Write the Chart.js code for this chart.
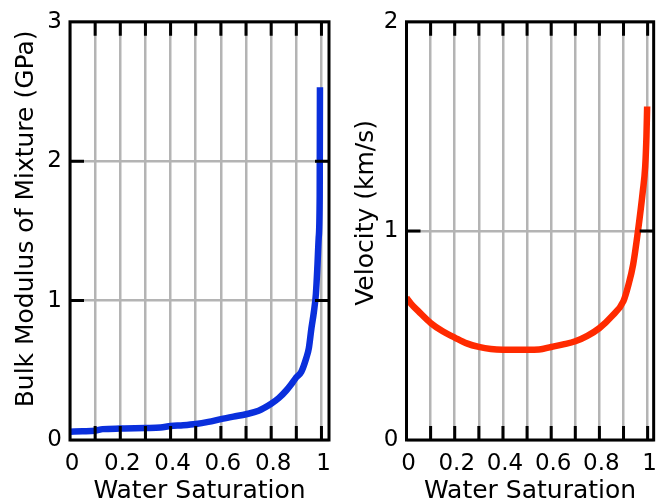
<!DOCTYPE html>
<html><head><meta charset="utf-8">
<script src="https://cdn.jsdelivr.net/npm/chart.js@4.4.1/dist/chart.umd.min.js"></script>
<style>
html,body{margin:0;padding:0;background:#fff;width:665px;height:504px;overflow:hidden}
#w1{position:absolute;left:0;top:0;width:340px;height:504px}
#w2{position:absolute;left:340px;top:0;width:325px;height:504px}
</style></head><body>
<div id="w1"><canvas id="c1"></canvas></div>
<div id="w2"><canvas id="c2"></canvas></div>
<script>
// ---- data ----
const saturationK = [0, 0.05, 0.1, 0.13, 0.2, 0.3, 0.36, 0.4, 0.45, 0.5, 0.55, 0.6, 0.65, 0.7, 0.75, 0.8, 0.83, 0.86, 0.88, 0.9, 0.92, 0.94, 0.95, 0.96, 0.97, 0.978, 0.984, 0.989, 0.993, 0.994];
const bulkModulus = [0.06, 0.062, 0.066, 0.078, 0.082, 0.086, 0.09, 0.1, 0.106, 0.115, 0.13, 0.15, 0.168, 0.185, 0.21, 0.26, 0.3, 0.355, 0.4, 0.45, 0.49, 0.59, 0.66, 0.8, 0.92, 1.05, 1.25, 1.45, 1.75, 2.53];
const saturationV = [0, 0.02, 0.05, 0.1, 0.15, 0.2, 0.25, 0.3, 0.35, 0.4, 0.45, 0.5, 0.55, 0.6, 0.65, 0.7, 0.75, 0.8, 0.85, 0.9, 0.92, 0.94, 0.96, 0.98, 0.99, 0.995, 0.998];
const velocity = [0.68, 0.65, 0.615, 0.56, 0.52, 0.49, 0.462, 0.445, 0.435, 0.432, 0.432, 0.432, 0.433, 0.445, 0.457, 0.472, 0.498, 0.535, 0.59, 0.665, 0.74, 0.84, 1.0, 1.19, 1.31, 1.45, 1.595];
const xTickValues = [0, 0.1, 0.2, 0.3, 0.4, 0.5, 0.6, 0.7, 0.8, 0.9, 1];
const xTickLabels = ['0', '', '0.2', '', '0.4', '', '0.6', '', '0.8', '', '1'];
const bulkTickValues = [0, 1, 2, 3];
const bulkTickLabels = ['0', '1', '2', '3'];
const velTickValues = [0, 1, 2];
const velTickLabels = ['0', '1', '2'];
const xTitle = 'Water Saturation';
const bulkTitle = 'Bulk Modulus of Mixture (GPa)';
const velTitle = 'Velocity (km/s)';

const FONT = "'DejaVu Sans', sans-serif";
const GRID = '#b4b4b4';

const framePlugin = {
  id: 'frame',
  afterDraw(chart, args, opts) {
    const {ctx, chartArea: a, scales: {x, y}} = chart;
    ctx.save();
    ctx.strokeStyle = '#000';
    ctx.lineWidth = 3;
    ctx.lineCap = 'butt';
    const L = 14;
    ctx.beginPath();
    x.ticks.forEach(t => {
      const px = x.getPixelForValue(t.value);
      if (px <= a.left + 2 || px >= a.right - 2) return;
      ctx.moveTo(px, a.bottom); ctx.lineTo(px, a.bottom - L);
      ctx.moveTo(px, a.top); ctx.lineTo(px, a.top + L);
    });
    y.ticks.forEach(t => {
      const py = y.getPixelForValue(t.value);
      if (py <= a.top + 2 || py >= a.bottom - 2) return;
      ctx.moveTo(a.left, py); ctx.lineTo(a.left + L, py);
      ctx.moveTo(a.right, py); ctx.lineTo(a.right - L, py);
    });
    ctx.stroke();
    ctx.strokeRect(a.left, a.top, a.right - a.left, a.bottom - a.top);
    // rotated y-axis title
    ctx.fillStyle = '#000';
    ctx.font = opts.size + 'px ' + FONT;
    ctx.textAlign = 'center';
    ctx.textBaseline = 'alphabetic';
    ctx.translate(opts.x, (a.top + a.bottom) / 2 + opts.dy);
    ctx.rotate(-Math.PI / 2);
    ctx.fillText(opts.text, 0, 0);
    ctx.restore();
  }
};

function makeChart(id, xs, ys, color, yMax, yTicks, yLabels, yTitle, cfg) {
  const pts = xs.map((v, i) => ({x: v, y: ys[i]}));
  return new Chart(document.getElementById(id), {
    type: 'line',
    data: {datasets: [{data: pts, borderColor: color, borderWidth: 6.5, pointRadius: 0,
      fill: false, cubicInterpolationMode: 'monotone', borderCapStyle: 'butt', borderJoinStyle: 'round'}]},
    options: {
      responsive: true, maintainAspectRatio: false, animation: false,
      devicePixelRatio: 1,
      layout: {padding: {top: 19, right: cfg.padRight, left: 0, bottom: 0}},
      plugins: {legend: {display: false}, tooltip: {enabled: false},
        frame: {text: yTitle, x: cfg.titleX, dy: cfg.titleDy, size: 25}},
      scales: {
        x: {type: 'linear', min: 0, max: cfg.xMax,
          afterBuildTicks: s => { s.ticks = xTickValues.map(v => ({value: v})); },
          afterFit: s => { s.height = 64; },
          grid: {color: GRID, lineWidth: 2.5, drawTicks: false},
          border: {display: false},
          ticks: {padding: 10, color: '#000', font: {family: FONT, size: 23}, maxRotation: 0, autoSkip: false,
            labelOffset: 2,
            callback: (v, i) => xTickLabels[i]},
          title: {display: true, text: xTitle, color: '#000', font: {family: FONT, size: 25, lineHeight: 1}, padding: 0}
        },
        y: {type: 'linear', min: 0, max: yMax,
          afterBuildTicks: s => { s.ticks = yTicks.map(v => ({value: v})); },
          afterFit: s => { s.width = cfg.yWidth; },
          grid: {color: GRID, lineWidth: 2.5, drawTicks: false},
          border: {display: false},
          ticks: {padding: 8, color: '#000', font: {family: FONT, size: 23},
            callback: (v, i) => yLabels[i]}
        }
      }
    },
    plugins: [framePlugin]
  });
}

makeChart('c1', saturationK, bulkModulus, '#0a2fdc', 3, bulkTickValues, bulkTickLabels, bulkTitle,
  {padRight: 11, yWidth: 70, xMax: 1.03, titleX: 33, titleDy: -12});
makeChart('c2', saturationV, velocity, '#ff2a00', 2, velTickValues, velTickLabels, velTitle,
  {padRight: 2, yWidth: 66.5, xMax: 1.025, titleX: 33, titleDy: -18});
</script>
</body></html>
